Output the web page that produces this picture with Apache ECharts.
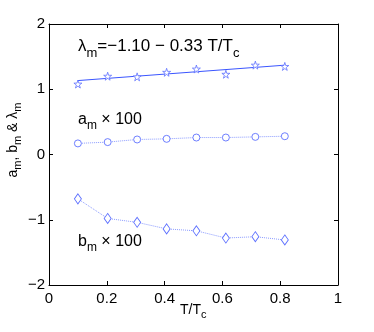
<!DOCTYPE html>
<html>
<head>
<meta charset="utf-8">
<script src="https://cdn.jsdelivr.net/npm/echarts@6/dist/echarts.min.js"></script>
<style>
  html, body { margin: 0; padding: 0; background: #fff; }
  #chart { width: 374px; height: 332px; }
</style>
</head>
<body>
<div id="chart"></div>
<script>
// temperatures T/Tc
var tData = [0.1, 0.203, 0.305, 0.407, 0.51, 0.612, 0.714, 0.816];
// lambda_m points (stars)
var lambdaVals = [1.08, 1.2, 1.19, 1.26, 1.31, 1.23, 1.37, 1.35];
// a_m x 100 (circles)
var aVals = [0.17, 0.19, 0.23, 0.24, 0.26, 0.26, 0.27, 0.28];
// b_m x 100 (diamonds)
var bVals = [-0.68, -0.98, -1.04, -1.14, -1.17, -1.28, -1.26, -1.31];
// fitted line ends
var fitX = [0.1, 0.816];
var fitY = [1.133, 1.369];
var xTicks = [0, 0.2, 0.4, 0.6, 0.8, 1];
var yTicks = [-2, -1, 0, 1, 2];

var blue = '#3a55ff';
var markBlue = '#5d70ff';
var font = 'Liberation Sans';
var star = 'path://M50,0 L61,35 L98,35 L68,57 L79,91 L50,70 L21,91 L32,57 L2,35 L39,35 Z';

function zip(xs, ys) {
  return xs.map(function (x, i) { return [x, ys[i]]; });
}
function fmt(v) {
  return String(v).replace('-', '\u2212');
}

var myChart = echarts.init(document.getElementById('chart'));

var baseX = {
  type: 'value', min: xTicks[0], max: xTicks[xTicks.length - 1], interval: 0.2,
  axisLine: { show: true, onZero: false, lineStyle: { color: '#000', width: 1 } },
  axisTick: { show: true, inside: true, length: 4, lineStyle: { color: '#000' } },
  splitLine: { show: false }
};
var baseY = {
  type: 'value', min: yTicks[0], max: yTicks[yTicks.length - 1], interval: 1,
  axisLine: { show: true, onZero: false, lineStyle: { color: '#000', width: 1 } },
  axisTick: { show: true, inside: true, length: 4, lineStyle: { color: '#000' } },
  splitLine: { show: false }
};

var option = {
  animation: false,
  grid: { left: 49, right: 36, top: 24, bottom: 47, outerBoundsMode: 'none', containLabel: false },
  xAxis: [
    Object.assign({}, baseX, {
      position: 'bottom',
      axisLabel: { color: '#000', fontFamily: font, fontSize: 15, margin: 6, formatter: fmt }
    }),
    Object.assign({}, baseX, { position: 'top', axisLabel: { show: false } })
  ],
  yAxis: [
    Object.assign({}, baseY, {
      position: 'left',
      axisLabel: { color: '#000', fontFamily: font, fontSize: 15, margin: 4, formatter: fmt }
    }),
    Object.assign({}, baseY, { position: 'right', axisLabel: { show: false } })
  ],
  series: [
    {
      type: 'line', data: zip(fitX, fitY), showSymbol: false, symbol: 'none',
      lineStyle: { color: blue, width: 1 }
    },
    {
      type: 'line', data: zip(tData, lambdaVals), symbol: star, symbolSize: 8,
      lineStyle: { width: 0, opacity: 0 },
      itemStyle: { color: '#fff', borderColor: markBlue, borderWidth: 0.8 }
    },
    {
      type: 'line', data: zip(tData, aVals), symbol: 'circle', symbolSize: 7,
      lineStyle: { color: '#8a9aff', width: 1, type: 'dotted' },
      itemStyle: { color: '#fff', borderColor: markBlue, borderWidth: 0.9 }
    },
    {
      type: 'line', data: zip(tData, bVals), symbol: 'diamond', symbolSize: [7, 10],
      lineStyle: { color: '#8a9aff', width: 1, type: 'dotted' },
      itemStyle: { color: '#fff', borderColor: markBlue, borderWidth: 0.9 }
    }
  ],
  graphic: [
    {
      // y axis title
      type: 'text', x: 13, y: 140, rotation: Math.PI / 2,
      style: {
        text: 'a{s|m}, b{s|m} & \u03bb{s|m}',
        align: 'center', verticalAlign: 'middle',
        fontFamily: font, fontSize: 14, fill: '#000',
        rich: { s: { fontFamily: font, fontSize: 11, fill: '#000', padding: [10, 0, 0, 0] } }
      }
    },
    {
      // x axis title
      type: 'text', left: 180, top: 303,
      style: {
        text: 'T/T{s|c}',
        fontFamily: font, fontSize: 14, fill: '#000',
        rich: { s: { fontFamily: font, fontSize: 11, fill: '#000', padding: [10, 0, 0, 0] } }
      }
    },
    {
      type: 'text', left: 78, top: 38,
      style: {
        text: '\u03bb{s|m}=\u22121.10 \u2212 0.33 T/T{s|c}',
        fontFamily: font, fontSize: 17, fill: '#000',
        rich: { s: { fontFamily: font, fontSize: 13, fill: '#000', padding: [13, 0, 0, 0] } }
      }
    },
    {
      type: 'text', left: 78, top: 112,
      style: {
        text: 'a{s|m} \u00d7 100',
        fontFamily: font, fontSize: 16, fill: '#000',
        rich: { s: { fontFamily: font, fontSize: 12, fill: '#000', padding: [12, 0, 0, 0] } }
      }
    },
    {
      type: 'text', left: 78, top: 234,
      style: {
        text: 'b{s|m} \u00d7 100',
        fontFamily: font, fontSize: 16, fill: '#000',
        rich: { s: { fontFamily: font, fontSize: 12, fill: '#000', padding: [12, 0, 0, 0] } }
      }
    }
  ]
};

myChart.setOption(option);
</script>
</body>
</html>
